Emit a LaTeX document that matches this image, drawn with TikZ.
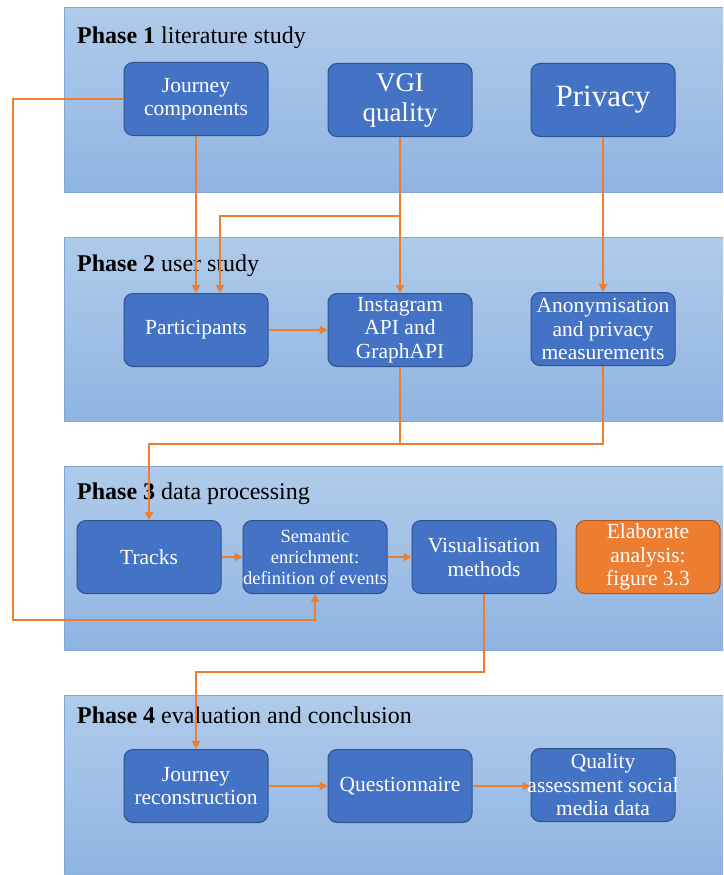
\documentclass[tikz,border=0pt]{standalone}
\usepackage{fontspec}
\setmainfont{Liberation Serif}
\usetikzlibrary{arrows.meta,positioning}
\definecolor{bandTop}{HTML}{B0CBEA}
\definecolor{bandBot}{HTML}{8FB4E2}
\definecolor{bandEdge}{HTML}{7FA8DA}
\definecolor{boxBlue}{HTML}{4472C4}
\definecolor{boxEdge}{HTML}{2F528F}
\definecolor{flowOrange}{HTML}{ED7D31}
\definecolor{orangeEdge}{HTML}{AE5A21}

\begin{document}
\begin{tikzpicture}[
    x=1pt, y=-1pt,
    band/.style={top color=bandTop, bottom color=bandBot},
    bandline/.style={bandEdge, line width=1pt},
    phase/.style={anchor=base west, inner sep=0pt, font=\fontsize{24}{28}\selectfont},
    box/.style={rectangle, rounded corners=9pt, draw=boxEdge, line width=1pt, fill=boxBlue, text=white, align=center, minimum width=144pt, minimum height=73pt, inner sep=0pt, font=\fontsize{21.5}{23.5}\selectfont},
    hot/.style={box, fill=flowOrange, draw=orangeEdge},
    link/.style={flowOrange, line width=2pt},
    flow/.style={link, -{Triangle[length=8pt, width=8pt]}}
  ]
    \useasboundingbox (0,0) rectangle (723,875);
    % phase bands
    \shade[band] (64,8) rectangle (723,192);
    \shade[band] (64,237) rectangle (723,421);
    \shade[band] (64,466) rectangle (723,650);
    \shade[band] (64,695) rectangle (723,875);
    \draw[bandline] (723,8) -| (64,192) -- (723,192);
    \draw[bandline] (723,237) -| (64,421) -- (723,421);
    \draw[bandline] (723,466) -| (64,650) -- (723,650);
    \draw[bandline] (723,695) -| (64,875);
    \node[phase] (ph1) at (77,44) {\textbf{Phase 1} literature study};
    \node[phase] (ph2) at (77,271) {\textbf{Phase 2} user study};
    \node[phase] (ph3) at (77,499) {\textbf{Phase 3} data processing};
    \node[phase] (ph4) at (77,723) {\textbf{Phase 4} evaluation and conclusion};
    % phase 1
    \node[box] (jComp) at (196,99) {Journey\\components};
    \node[box, font=\fontsize{27}{30}\selectfont] (vgiQual) at (400,100) {VGI\\quality};
    \node[box, font=\fontsize{31}{34}\selectfont] (privacy) at (603,100) {Privacy};
    % phase 2
    \node[box] (partic) at (196,330) {Participants};
    \node[box] (insta) at (400,330) {Instagram\\API and\\GraphAPI};
    \node[box] (anonym) at (603,329) {Anonymisation\\and privacy\\measurements};
    % phase 3
    \node[box] (tracks) at (149,557) {Tracks};
    \node[box, font=\fontsize{18.5}{21}\selectfont] (semEnr) at (315,557) {Semantic\\enrichment:\\definition of events};
    \node[box] (visMeth) at (484,557) {Visualisation\\methods};
    \node[hot] (elab) at (648,557) {Elaborate\\analysis:\\figure 3.3};
    % phase 4
    \node[box] (jRecon) at (196,786) {Journey\\reconstruction};
    \node[box] (quest) at (400,786) {Questionnaire};
    \node[box, inner xsep=-6pt] (qualAss) at (603,785) {Quality\\assessment social\\media data};
    % bends
    \coordinate (leftBend) at (13,620);
    \coordinate (vgiSplit) at (400,216);
    \coordinate (p2Join) at (149,444);
    \coordinate (p3Bend) at (196,672);
    % connectors
    \draw[flow] (jComp.west) -| (leftBend) -| (semEnr.south);
    \draw[flow] (jComp.south) -- (partic.north);
    \draw[flow] (vgiQual.south) -- (insta.north);
    \draw[flow] (vgiSplit) -| ([xshift=24pt]partic.north);
    \draw[flow] (privacy.south) -- (anonym.north);
    \draw[flow] (partic.east) -- (insta.west);
    \draw[link] (insta.south) -- (insta.south |- p2Join);
    \draw[flow] (anonym.south) |- (p2Join) -- (tracks.north);
    \draw[flow] (tracks.east) -- (semEnr.west);
    \draw[flow] (semEnr.east) -- (visMeth.west);
    \draw[flow] (visMeth.south) |- (p3Bend) -- (jRecon.north);
    \draw[flow] (jRecon.east) -- (quest.west);
    \draw[flow] (quest.east) -- (qualAss.west |- quest.east);
\end{tikzpicture}
\end{document}
